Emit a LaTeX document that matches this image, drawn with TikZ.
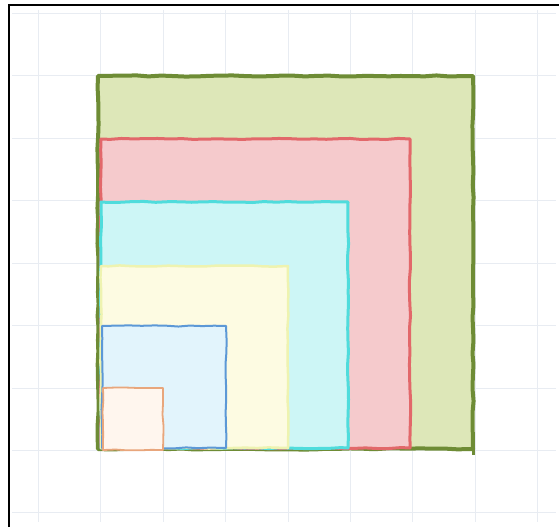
\documentclass[tikz,border=0pt]{standalone}
\usetikzlibrary{decorations.pathmorphing}
\definecolor{gridc}{HTML}{E8ECF2}
\definecolor{grnline}{HTML}{6E8C35}
\definecolor{grnfill}{HTML}{DDE7B8}
\definecolor{redline}{HTML}{E2686A}
\definecolor{redfill}{HTML}{F5CACC}
\definecolor{cyanline}{HTML}{4FDCDC}
\definecolor{cyanfill}{HTML}{CDF6F6}
\definecolor{yelline}{HTML}{EEF3B0}
\definecolor{yelfill}{HTML}{FDFBE2}
\definecolor{bluline}{HTML}{5C98D6}
\definecolor{blufill}{HTML}{E2F4FC}
\definecolor{oraline}{HTML}{E8A67C}
\definecolor{orafill}{HTML}{FFF6EE}
\tikzset{
  sq/.style={line join=round, decorate, decoration={random steps, segment length=12pt, amplitude=0.6pt}},
  gridline/.style={draw=gridc, line width=0.8pt},
}
\begin{document}
\begin{tikzpicture}[x=1pt,y=-1pt]
\useasboundingbox (0,0) rectangle (559,527);
\fill[white] (0,0) rectangle (559,527);
% grid
\foreach \gx in {38,100,163,225,288,350,412,475,537}
  \draw[gridline] (\gx,10) -- (\gx,522);
\foreach \gy in {13,75,138,200,263,325,388,450,512}
  \draw[gridline] (12,\gy) -- (556,\gy);
% squares, largest first
\filldraw[sq, fill=grnfill, draw=grnline, line width=4pt] (98,76) rectangle (473,449);
\draw[grnline, line width=3pt] (473,445) -- (473,455);
\filldraw[sq, fill=redfill, draw=redline, line width=3pt] (101,139) rectangle (410,448);
\filldraw[sq, fill=cyanfill, draw=cyanline, line width=3pt] (101,202) rectangle (348,448);
\filldraw[sq, fill=yelfill, draw=yelline, line width=2.5pt] (101,266) rectangle (288,448);
\filldraw[sq, fill=blufill, draw=bluline, line width=2pt] (102,326) rectangle (226,448);
\filldraw[sq, fill=orafill, draw=oraline, line width=1.8pt] (103,388) rectangle (163,450);
% frame
\draw[black, line width=2.2pt] (9,527) -- (9,5) -- (559,5);
\end{tikzpicture}
\end{document}
